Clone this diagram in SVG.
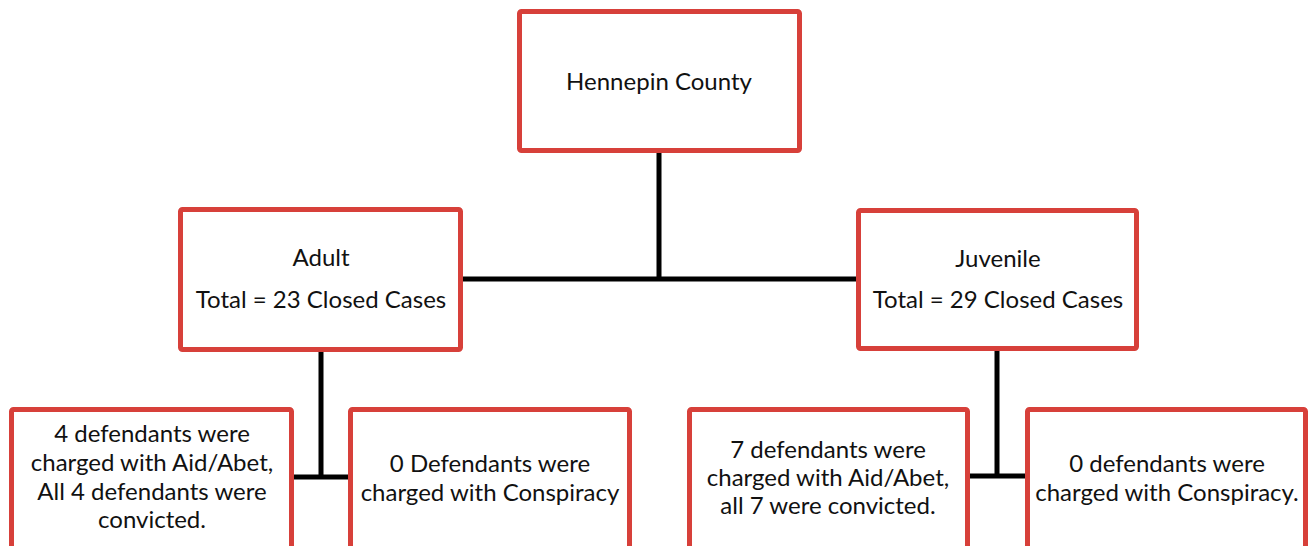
<svg xmlns="http://www.w3.org/2000/svg" width="1312" height="546" viewBox="0 0 1312 546">
<style>
.box{fill:#ffffff;stroke:#d7403a;stroke-width:5}
.t{font-family:Lato,"Carlito","Liberation Sans",sans-serif;font-size:24px;fill:#111111;text-anchor:middle}
.c{stroke:#000000;stroke-width:5;fill:none}
</style>
<rect width="1312" height="546" fill="#ffffff"/>
<g id="connectors">
<path class="c" d="M659 153V279M463 279H857"/>
<path class="c" d="M321 352V477M293 477H348"/>
<path class="c" d="M997 351V476M970 476H1025"/>
</g>
<g id="hennepin"><rect class="box" x="519.5" y="11.5" width="280" height="139" rx="2"/><text class="t" x="659" y="90">Hennepin County</text></g>
<g id="adult"><rect class="box" x="180.5" y="209.5" width="280" height="140" rx="2"/><text class="t" x="321" y="266">Adult</text><text class="t" x="321" y="308">Total = 23 Closed Cases</text></g>
<g id="juvenile"><rect class="box" x="858.5" y="210.5" width="278" height="138" rx="2"/><text class="t" x="998" y="267">Juvenile</text><text class="t" x="998" y="308">Total = 29 Closed Cases</text></g>
<g id="adult-aid"><rect class="box" x="11.5" y="409.5" width="280" height="160" rx="2"/><text class="t" x="152" y="442">4 defendants were</text><text class="t" x="152" y="471">charged with Aid/Abet,</text><text class="t" x="152" y="500">All 4 defendants were</text><text class="t" x="152" y="528">convicted.</text></g>
<g id="adult-consp"><rect class="box" x="350.5" y="409.5" width="279" height="160" rx="2"/><text class="t" x="490" y="472">0 Defendants were</text><text class="t" x="490" y="501">charged with Conspiracy</text></g>
<g id="juv-aid"><rect class="box" x="689.5" y="409.5" width="278" height="160" rx="2"/><text class="t" x="828" y="458">7 defendants were</text><text class="t" x="828" y="486">charged with Aid/Abet,</text><text class="t" x="828" y="514">all 7 were convicted.</text></g>
<g id="juv-consp"><rect class="box" x="1027.5" y="409.5" width="278" height="160" rx="2"/><text class="t" x="1167" y="472">0 defendants were</text><text class="t" x="1167" y="501">charged with Conspiracy.</text></g>
</svg>
